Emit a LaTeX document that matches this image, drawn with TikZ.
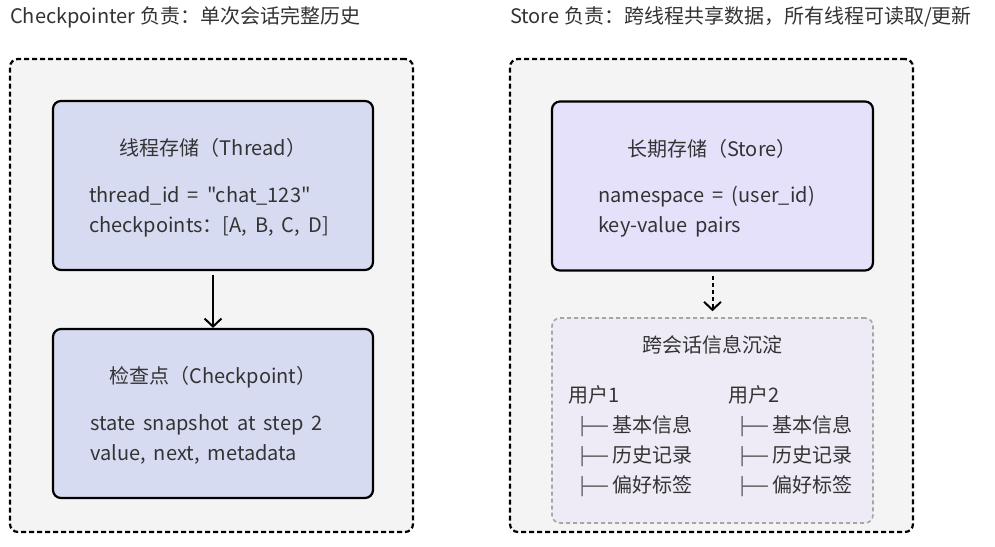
\documentclass[tikz,border=0pt]{standalone}
\usepackage{fontspec}
\newfontfamily\cjk{Noto Sans CJK SC}
\newfontfamily\treefont{DejaVu Sans Mono}
\usetikzlibrary{arrows.meta}
\definecolor{panelgray}{HTML}{F4F4F4}
\definecolor{threadblue}{HTML}{D7DBF1}
\definecolor{storepurple}{HTML}{E6E1FB}
\definecolor{memolilac}{HTML}{EEEBF7}
\definecolor{inkgray}{HTML}{333333}
\newcommand{\branch}{\hspace*{9pt}{\treefont\fontsize{17}{30}\selectfont\color{inkgray!80}├──}\hspace{5pt}}
\tikzset{
  panel/.style={draw=black, line width=2.2pt, dash pattern=on 5pt off 3pt,
    rounded corners=8pt, fill=panelgray, inner sep=0pt},
  box/.style={draw=black, line width=2.2pt, rounded corners=8pt, inner sep=0pt,
    minimum width=320pt, minimum height=169pt},
  memobox/.style={draw=gray!70, line width=1.6pt, dash pattern=on 4pt off 3pt,
    rounded corners=8pt, fill=memolilac, inner sep=0pt},
  txt/.style={font=\cjk\fontsize{20}{30}\selectfont, text=inkgray, inner sep=0pt, align=left},
  body/.style={txt, anchor=west, execute at begin node={\spaceskip=0.4em\relax}},
  flow/.style={line width=2pt, -{Straight Barb[length=8pt,width=17pt,line width=2pt]}},
}
\begin{document}
\begin{tikzpicture}[x=1pt,y=-1pt]
  \useasboundingbox[fill=white] (0,0) rectangle (995,546);

  % headings
  \node[txt, anchor=west] (lefthead) at (10,17) {Checkpointer 负责：单次会话完整历史};
  \node[txt, anchor=west] (righthead) at (510,17) {Store 负责：跨线程共享数据，所有线程可读取/更新};

  % panels
  \node[panel, minimum width=403pt, minimum height=473pt] (leftpanel) at (211.5,295.5) {};
  \node[panel, minimum width=403pt, minimum height=473pt] (rightpanel) at (711.5,295.5) {};

  % checkpointer side
  \node[box, fill=threadblue] (thread) at (213,185.5) {};
  \node[txt] (threadtitle) at (213,148) {线程存储（Thread）};
  \node[body] (threadbody) at (89,211.5)
    {thread\_id = "chat\_123"\\checkpoints：[A, B, C, D]};

  \node[box, fill=threadblue] (checkpoint) at (213,413.5) {};
  \node[txt] (checkpointtitle) at (213,377) {检查点（Checkpoint）};
  \node[body] (checkpointbody) at (90,439)
    {state snapshot at step 2\\value, next, metadata};

  \draw[flow, shorten <=4pt] (thread.south) -- (checkpoint.north);

  % store side
  \node[box, fill=storepurple, minimum width=321pt] (store) at (712.5,186) {};
  \node[txt] (storetitle) at (712,149) {长期存储（Store）};
  \node[body] (storebody) at (598,212)
    {namespace = (user\_id)\\key-value pairs};

  \node[memobox, minimum width=321pt, minimum height=205pt] (memo) at (712.5,420.5) {};
  \node[txt] (memotitle) at (712,345) {跨会话信息沉淀};
  \node[txt, anchor=west] (userone) at (568,441.5)
    {用户1\\\branch 基本信息\\\branch 历史记录\\\branch 偏好标签};
  \node[txt, anchor=west] (usertwo) at (728,441.5)
    {用户2\\\branch 基本信息\\\branch 历史记录\\\branch 偏好标签};

  \draw[flow, dash pattern=on 4pt off 3pt, shorten <=4pt, shorten >=6pt] (store.south) -- (memo.north);
\end{tikzpicture}
\end{document}
